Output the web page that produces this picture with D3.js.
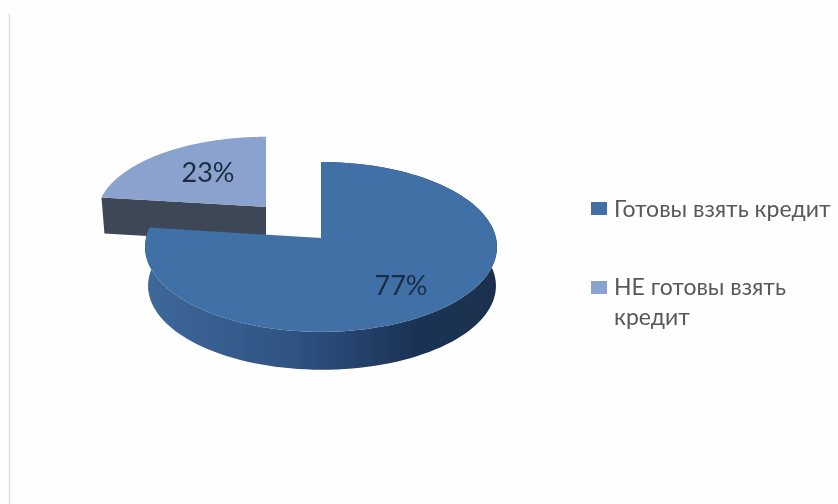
<!DOCTYPE html>
<html>
<head>
<meta charset="utf-8">
<style>
html, body { margin: 0; padding: 0; background: #fefefe; }
svg { display: block; }
</style>
<script src="https://cdnjs.cloudflare.com/ajax/libs/d3/7.8.5/d3.min.js"></script>
</head>
<body>
<div id="chart"></div>
<script>
const categories = ["Готовы взять кредит", "НЕ готовы взять кредит"];
const shares = [77, 23];
const legendLines = [["Готовы взять кредит"], ["НЕ готовы взять", "кредит"]];
const topColors = ["#3f6fa6", "#8aa2cd"];

const width = 838, height = 504;
const svg = d3.select("#chart").append("svg")
    .attr("width", width)
    .attr("height", height)
    .attr("viewBox", `0 0 ${width} ${height}`);

const defs = svg.append("defs");
defs.append("filter").attr("id", "soft")
    .append("feGaussianBlur").attr("stdDeviation", 0.7);
const shade = defs.append("linearGradient")
    .attr("id", "main-side")
    .attr("gradientUnits", "userSpaceOnUse")
    .attr("x1", 147).attr("x2", 497).attr("y1", 0).attr("y2", 0);
shade.append("stop").attr("offset", "0%").attr("stop-color", "#3d6899");
shade.append("stop").attr("offset", "40%").attr("stop-color", "#2f5483");
shade.append("stop").attr("offset", "57%").attr("stop-color", "#264570");
shade.append("stop").attr("offset", "76%").attr("stop-color", "#1c3355");
shade.append("stop").attr("offset", "100%").attr("stop-color", "#1b2f4e");

// faint slide edge on the left of the screenshot
svg.append("line")
    .attr("x1", 9.5).attr("x2", 9.5).attr("y1", 14).attr("y2", height)
    .attr("stroke", "#dcdcdc").attr("stroke-width", 1.5);

const pie = d3.pie().sort(null).value(d => d);
const slices = pie(shares);

// disc tilted with a little perspective: far edge is squeezed, near edge stretched
const persp = 0.105;
const project = (g, a, t = 1) => {
    const X = Math.sin(a) * t, Y = Math.cos(a) * t;
    const w = 1 + persp * Y;
    return [g.x + g.rx * X / w, g.y - g.ry * Y / w];
};

const rimPoints = (g, a0, a1) => d3.range(0, 121).map(i => project(g, a0 + (a1 - a0) * i / 120));
const line = d3.line();

const mainTop = {x: 321, y: 238, rx: 175, ry: 84};
const mainBase = {x: 322, y: 277, rx: 173, ry: 83};
const smallTop = {x: 266, y: 207, rx: 168, ry: 77.6};
const smallBase = {x: 266, y: 243, rx: 165, ry: 76};

const chart = svg.append("g").attr("filter", "url(#soft)");

// small slice first, the big one overlaps its base
const small = slices[1];
const corner = project(smallTop, small.startAngle);
const cornerBase = project(smallBase, small.startAngle);
chart.append("path")
    .attr("d", line([[smallTop.x, smallTop.y], corner, cornerBase, [smallBase.x, smallBase.y]]) + "Z")
    .attr("fill", "#3c4757");
chart.append("path")
    .attr("d", line([[smallTop.x, smallTop.y], ...rimPoints(smallTop, small.startAngle, small.endAngle)]) + "Z")
    .attr("fill", topColors[1]);

// big slice
const big = slices[0];
const topRim = rimPoints(mainTop, big.startAngle, big.endAngle);
const baseRim = rimPoints(mainBase, big.startAngle, big.endAngle);
chart.append("path")
    .attr("d", line([...topRim, ...baseRim.reverse()]) + "Z")
    .attr("fill", "url(#main-side)");
chart.append("path")
    .attr("d", line([[mainTop.x, mainTop.y], ...topRim]) + "Z")
    .attr("fill", topColors[0]);

const labelPos = [[401, 295], [208, 182]];
chart.selectAll(".pct")
    .data(shares)
    .enter().append("text")
    .attr("class", "pct")
    .attr("x", (d, i) => labelPos[i][0])
    .attr("y", (d, i) => labelPos[i][1])
    .attr("text-anchor", "middle")
    .attr("font-family", "Lato, 'Open Sans', sans-serif")
    .attr("font-size", 27)
    .attr("fill", "#1c2c42")
    .text(d => d + "%");

// legend
const legendY = [[217], [295, 325]];
const swatchY = [202, 281];
const legend = svg.append("g").attr("filter", "url(#soft)");
categories.forEach((c, i) => {
    legend.append("rect")
        .attr("x", 591).attr("y", swatchY[i])
        .attr("width", 16).attr("height", 13)
        .attr("fill", topColors[i]);
    legendLines[i].forEach((txt, j) => {
        legend.append("text")
            .attr("x", 614).attr("y", legendY[i][j])
            .attr("font-family", "Lato, 'Open Sans', sans-serif")
            .attr("font-size", 23)
            .attr("fill", "#595959")
            .text(txt);
    });
});
</script>
</body>
</html>
